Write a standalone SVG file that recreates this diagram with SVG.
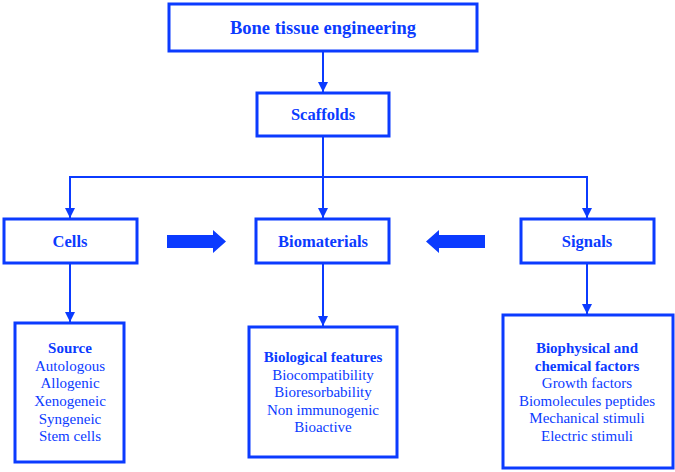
<svg xmlns="http://www.w3.org/2000/svg" width="675" height="472" viewBox="0 0 675 472">
<style>
.box{fill:#fff;stroke:#0b3bff;stroke-width:3}
.ln{fill:none;stroke:#0b3bff;stroke-width:2}
.t{font-family:"Liberation Serif","Times New Roman",serif;fill:#0b3bff;text-anchor:middle}
.h{font-weight:bold;font-size:16.5px}
.b{font-weight:bold;font-size:15px}
.r{font-size:15px}
.blk{fill:#0b3bff}
</style>
<defs>
<marker id="ah" viewBox="0 0 10 10" refX="10" refY="5" markerWidth="10" markerHeight="10" markerUnits="userSpaceOnUse" orient="auto">
<path d="M0,0 L10,5 L0,10 Z" fill="#0b3bff"/>
</marker>
</defs>
<g id="connectors">
<line class="ln" x1="323" y1="52" x2="323" y2="92" marker-end="url(#ah)"/>
<line class="ln" x1="323" y1="137" x2="323" y2="177"/>
<polyline class="ln" points="70,218 70,177 587,177 587,218" marker-end="url(#ah)"/>
<line class="ln" x1="70" y1="177" x2="70" y2="218" marker-end="url(#ah)"/>
<line class="ln" x1="323" y1="177" x2="323" y2="218" marker-end="url(#ah)"/>
<line class="ln" x1="70" y1="264" x2="70" y2="322" marker-end="url(#ah)"/>
<line class="ln" x1="323" y1="264" x2="323" y2="326" marker-end="url(#ah)"/>
<line class="ln" x1="587" y1="264" x2="587" y2="314" marker-end="url(#ah)"/>
<polygon class="blk" points="167,235 213,235 213,230 226,241.5 213,253 213,248 167,248"/>
<polygon class="blk" points="485,235 439,235 439,230 426,241.5 439,253 439,248 485,248"/>
</g>
<g id="bte">
<rect class="box" x="169" y="4" width="308" height="47"/>
<text class="t" x="323" y="34" font-weight="bold" font-size="18.5">Bone tissue engineering</text>
</g>
<g id="scaffolds">
<rect class="box" x="257" y="93" width="132" height="43"/>
<text class="t h" x="323" y="120">Scaffolds</text>
</g>
<g id="cells">
<rect class="box" x="4" y="219" width="133" height="44"/>
<text class="t h" x="70" y="247">Cells</text>
</g>
<g id="biomaterials">
<rect class="box" x="256" y="219" width="133" height="44"/>
<text class="t h" x="323" y="247">Biomaterials</text>
</g>
<g id="signals">
<rect class="box" x="521" y="219" width="133" height="44"/>
<text class="t h" x="587" y="247">Signals</text>
</g>
<g id="source">
<rect class="box" x="15" y="323" width="109" height="139"/>
<text class="t b" x="70" y="353">Source</text>
<text class="t r" x="70" y="371">Autologous</text>
<text class="t r" x="70" y="388">Allogenic</text>
<text class="t r" x="70" y="406">Xenogeneic</text>
<text class="t r" x="70" y="424">Syngeneic</text>
<text class="t r" x="70" y="441">Stem cells</text>
</g>
<g id="biological">
<rect class="box" x="249" y="327" width="148" height="130"/>
<text class="t b" x="323" y="362">Biological features</text>
<text class="t r" x="323" y="380">Biocompatibility</text>
<text class="t r" x="323" y="397">Bioresorbability</text>
<text class="t r" x="323" y="415">Non immunogenic</text>
<text class="t r" x="323" y="432">Bioactive</text>
</g>
<g id="biophysical">
<rect class="box" x="503" y="315" width="170" height="153"/>
<text class="t b" x="587" y="353">Biophysical and</text>
<text class="t b" x="587" y="371">chemical factors</text>
<text class="t r" x="587" y="388">Growth factors</text>
<text class="t r" x="587" y="406">Biomolecules peptides</text>
<text class="t r" x="587" y="423">Mechanical stimuli</text>
<text class="t r" x="587" y="441">Electric stimuli</text>
</g>
</svg>
